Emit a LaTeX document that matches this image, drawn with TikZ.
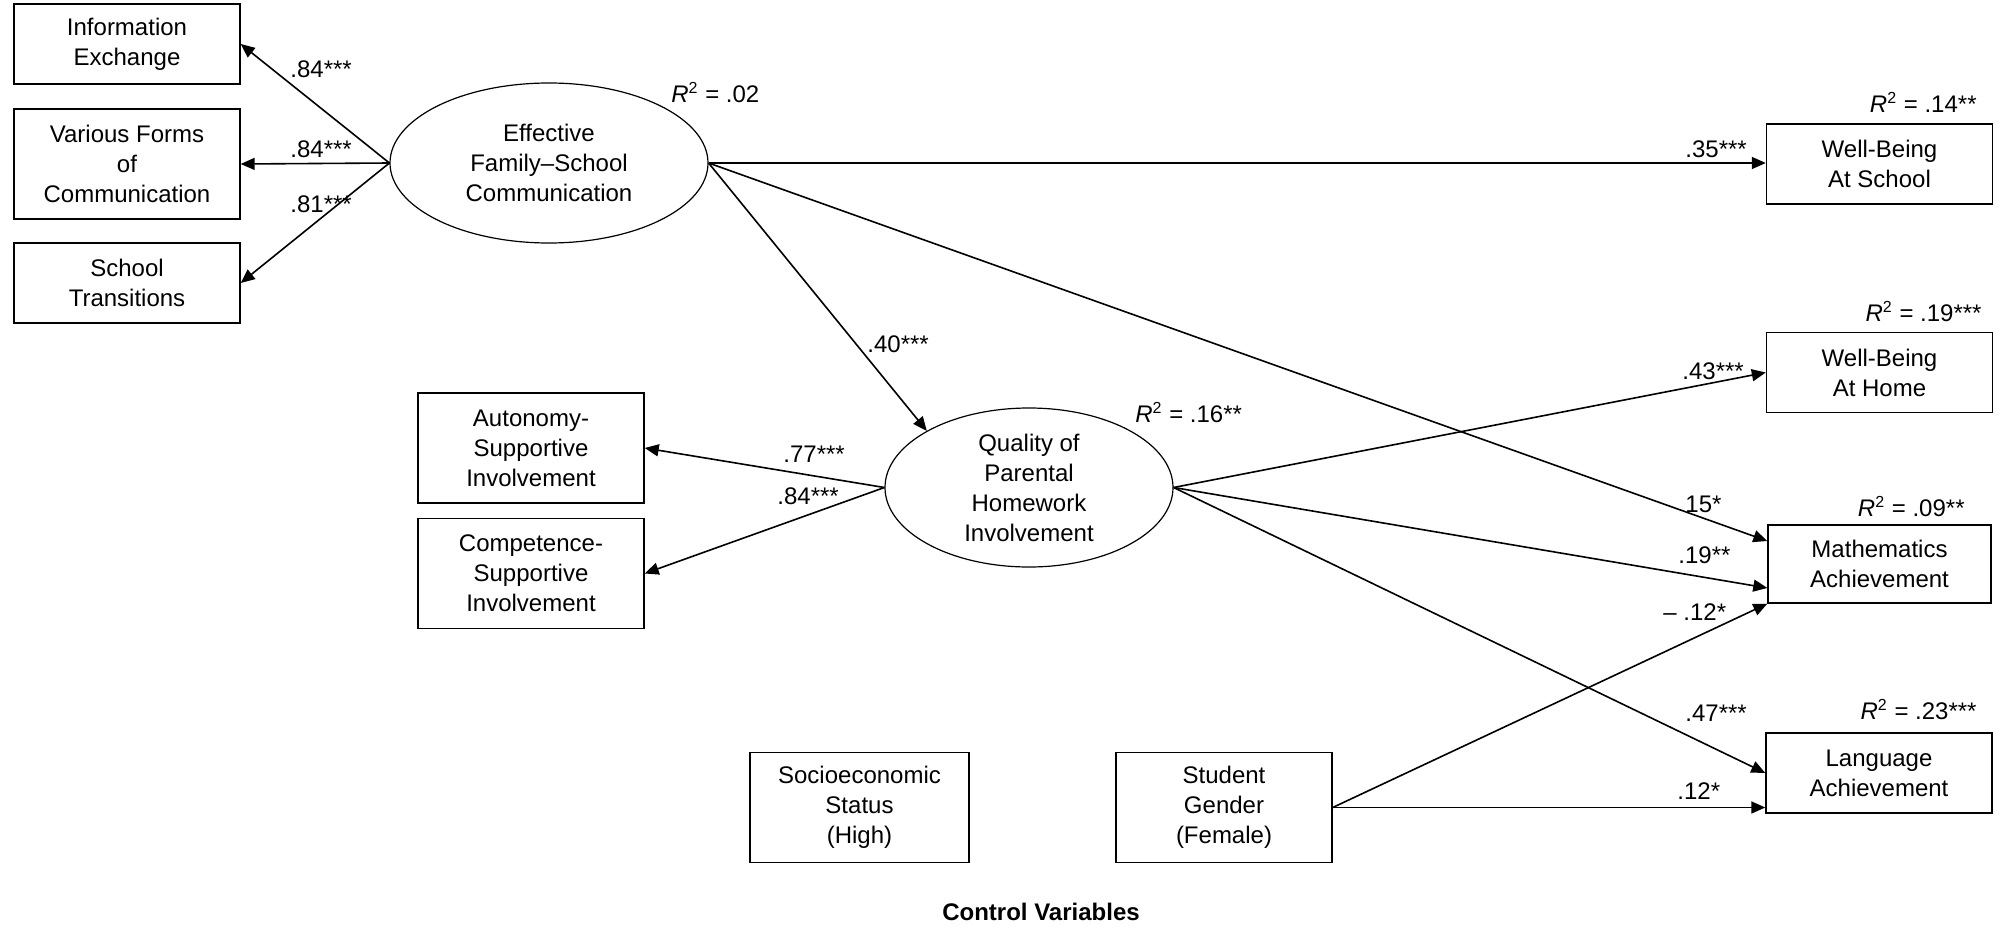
\documentclass[tikz,border=0pt]{standalone}
\usepackage{fontspec}
\setmainfont{Liberation Sans}
\usetikzlibrary{arrows.meta,calc,shapes.geometric}
\begin{document}
\begin{tikzpicture}[x=0.5pt,y=-0.5pt,
  every node/.style={font=\fontsize{12}{15}\selectfont},
  box/.style={draw,line width=0.7pt,align=center,inner sep=0pt,minimum width=113pt,minimum height=40pt},
  tallbox/.style={box,minimum height=55pt},
  latent/.style={draw,ellipse,line width=0.6pt,align=center,inner xsep=0pt,inner ysep=-3pt},
  conn/.style={line width=0.8pt,-{Triangle[length=7pt,width=6pt]}},
  lab/.style={anchor=base west,inner sep=0pt},
  rlab/.style={anchor=base east,inner sep=0pt}]
\useasboundingbox (0,0) rectangle (2004,926);

% indicators of communication
\node[box] (info) at (127,44) {Information\\Exchange};
\node[tallbox] (various) at (127,164) {Various Forms\\of\\Communication};
\node[box] (school) at (127,283) {School\\Transitions};
\node[latent,minimum width=159pt,minimum height=80pt] (eff) at (549,163) {Effective\\Family–School\\Communication};

% indicators of homework involvement
\node[tallbox] (auton) at (531,448) {Autonomy-\\Supportive\\Involvement};
\node[tallbox] (comp) at (531,573.5) {Competence-\\Supportive\\Involvement};
\node[latent,minimum width=144pt,minimum height=79.5pt] (qual) at (1029,487.5) {Quality of\\Parental\\Homework\\Involvement};

% outcomes
\node[box] (wbs) at (1879.5,164) {Well-Being\\At School};
\node[box] (wbh) at (1879.5,372.5) {Well-Being\\At Home};
\node[box,minimum width=111.5pt,minimum height=39pt] (math) at (1879.5,564) {Mathematics\\Achievement};
\node[box] (lang) at (1879,773) {Language\\Achievement};

% control variables
\node[tallbox,minimum width=109.5pt] (ses) at (859.5,807.5) {Socioeconomic\\Status\\(High)};
\node[tallbox,minimum width=108pt] (gender) at (1224,807.5) {Student\\Gender\\(Female)};
\node[font=\fontsize{12}{15}\selectfont\bfseries] (ctrl) at (1041,912) {Control Variables};

% connectors
\draw[conn] (eff.west) -- (info.east);
\draw[conn] (eff.west) -- (various.east);
\draw[conn] (eff.west) -- (school.east);
\draw[conn] (eff.east) -- (wbs.west |- eff.east);
\draw[conn] (eff.east) -- (qual.151);
\draw[conn] (eff.east) -- ($(math.west)+(0,-23)$);
\draw[conn] (qual.west) -- (auton.east);
\draw[conn] (qual.west) -- (comp.east);
\draw[conn] (qual.east) -- (wbh.west);
\draw[conn] (qual.east) -- ($(math.west)+(0,24)$);
\draw[conn] (qual.east) -- (lang.west);
\draw[conn] (gender.east) -- (math.south west);
\draw[conn] (gender.east) -- (gender.east -| lang.west);

% path coefficients
\node[lab] (c1) at (290,77) {.84***};
\node[lab] (c2) at (290,157) {.84***};
\node[lab] (c3) at (290,212) {.81***};
\node[lab] (c4) at (1685,157) {.35***};
\node[lab] (c5) at (867,352) {.40***};
\node[lab] (c6) at (783,462) {.77***};
\node[lab] (c7) at (777,504) {.84***};
\node[lab] (c8) at (1682,379) {.43***};
\node[lab] (c9) at (1685,512) {15*};
\node[lab] (c10) at (1678,563) {.19**};
\node[lab] (c11) at (1663,620) {– .12*};
\node[lab] (c12) at (1685,721) {.47***};
\node[lab] (c13) at (1677,799) {.12*};

% explained variance
\node[lab] (r1) at (671,102) {\textit{R}\textsuperscript{2} = .02};
\node[rlab] (r2) at (1977,112) {\textit{R}\textsuperscript{2} = .14**};
\node[rlab] (r3) at (1982,321) {\textit{R}\textsuperscript{2} = .19***};
\node[lab] (r4) at (1135,422) {\textit{R}\textsuperscript{2} = .16**};
\node[rlab] (r5) at (1965,516) {\textit{R}\textsuperscript{2} = .09**};
\node[rlab] (r6) at (1977,719) {\textit{R}\textsuperscript{2} = .23***};
\end{tikzpicture}
\end{document}
